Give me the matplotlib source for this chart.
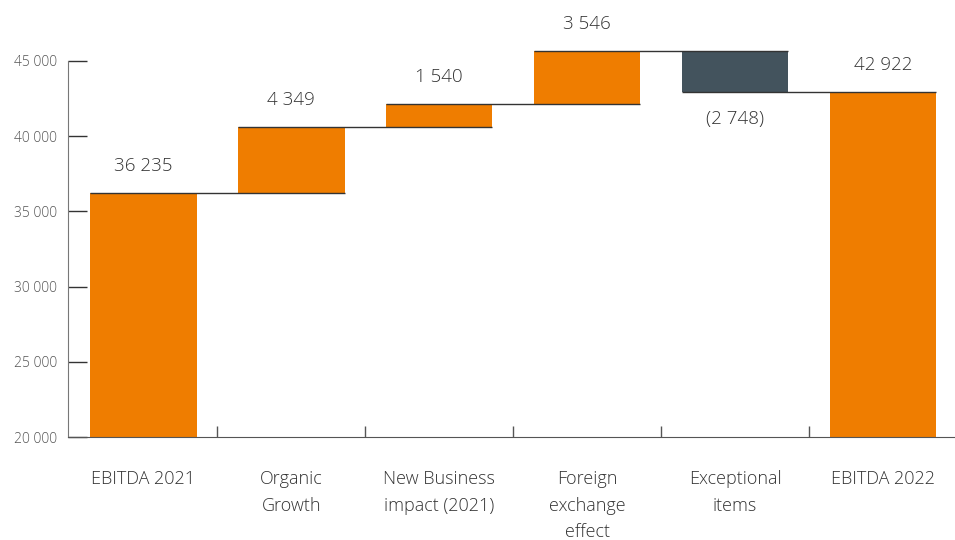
import matplotlib
matplotlib.use("Agg")
import matplotlib.pyplot as plt
from matplotlib.ticker import FuncFormatter

plt.rcParams['font.family'] = ['Open Sans', 'DejaVu Sans']
plt.rcParams['font.weight'] = 'light'

# data
categories = ["EBITDA 2021", "Organic\nGrowth", "New Business\nimpact (2021)",
              "Foreign\nexchange\neffect", "Exceptional\nitems", "EBITDA 2022"]
changes = [36235, 4349, 1540, 3546, -2748, 42922]
is_total = [True, False, False, False, False, True]
value_labels = ["36 235", "4 349", "1 540", "3 546", "(2 748)", "42 922"]

orange = "#EF7D00"
slate = "#43535D"
text_col = "#333333"

fig = plt.figure(figsize=(9.55, 5.4), dpi=100)
ax = fig.add_axes([0.0712, 0.1907, 0.9288, 0.7799])

w = 0.72
run = 0
ends = []
for i, (c, tot) in enumerate(zip(changes, is_total)):
    if tot:
        bottom, height = 20000, c - 20000
        run = c
    else:
        bottom = run if c > 0 else run + c
        height = abs(c)
        run += c
    ends.append(run)
    col = slate if c < 0 else orange
    ax.bar(i, height, bottom=bottom, width=w, color=col, zorder=2)
    if c < 0:
        ax.text(i, bottom - 1750, value_labels[i], ha="center", va="center",
                fontsize=13.5, color=text_col)
    else:
        ax.text(i, bottom + height + 1800, value_labels[i], ha="center", va="center",
                fontsize=13.5, color=text_col)

# connector lines
for i in range(len(ends) - 1):
    ax.hlines(ends[i], i - w / 2, i + 1 + w / 2, color="#333333", lw=1, zorder=3)

ax.set_xlim(-0.51, 5.487)
ax.set_ylim(20000, 48000)
ax.set_yticks(range(20000, 45001, 5000))
ax.yaxis.set_major_formatter(FuncFormatter(lambda v, p: f"{int(v):,}".replace(",", " ")))
ax.tick_params(axis="y", direction="in", length=13.5, width=1, color="#333333",
               labelsize=10, labelcolor="#555555", pad=8)

ax.set_xticks(range(len(categories)))
ax.set_xticklabels(categories, fontsize=13, color=text_col, linespacing=1.6)
ax.tick_params(axis="x", which="major", length=0, pad=24)
ax.set_xticks([i + 0.5 for i in range(len(categories) - 1)], minor=True)
ax.tick_params(axis="x", which="minor", direction="in", length=8, width=1, color="#555555")

for s in ["top", "right"]:
    ax.spines[s].set_visible(False)
ax.spines["left"].set_bounds(20000, 45000)
ax.spines["left"].set_color("#777777")
ax.spines["bottom"].set_color("#555555")

fig.savefig("out.png", dpi=100)
